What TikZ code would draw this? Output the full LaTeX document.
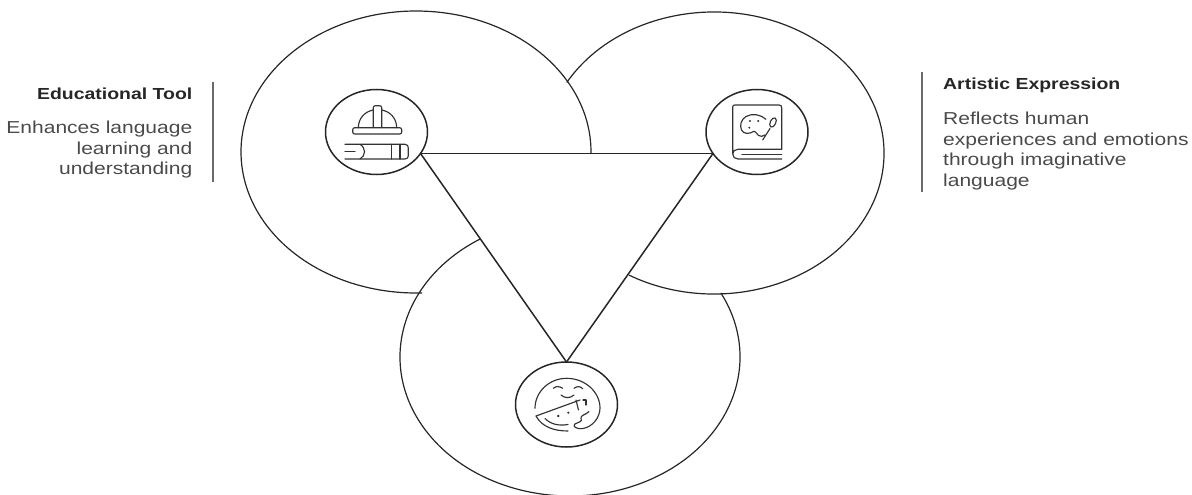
\documentclass[tikz,border=0pt]{standalone}
\usepackage{fontspec}
\setmainfont[FakeStretch=1.215]{Liberation Sans}
\usetikzlibrary{shapes.geometric}
\definecolor{ink}{HTML}{262626}
\definecolor{iconink}{HTML}{333333}
\definecolor{bodyink}{HTML}{4A4A4A}
\definecolor{barink}{HTML}{6A6A6A}
\tikzset{
  bigarc/.style={draw=ink,line width=1.2pt},
  hub/.style={ellipse,draw=ink,line width=1.5pt,minimum width=102pt,minimum height=85pt,inner sep=0pt,outer sep=0pt},
  tri/.style={draw=ink,line width=1.5pt},
  icon/.style={draw=iconink,line width=1.15pt,line cap=round,line join=round},
  head/.style={inner sep=0pt,font=\fontsize{16}{18}\selectfont\bfseries,text=ink},
  bodytext/.style={inner sep=0pt,font=\fontsize{17.3}{20.8}\selectfont,text=bodyink},
  bar/.style={draw=barink,line width=1.4pt}
}
\begin{document}
\begin{tikzpicture}[x=1pt,y=-1pt]
\useasboundingbox (0,0) rectangle (1192,495);
\coordinate (L) at (416,152);
\coordinate (R) at (714,153);
\coordinate (S) at (570,357);
% large overlapping circles
\draw[bigarc] (L) ++(-0.4:175pt and 141pt) arc[start angle=-0.4,end angle=272,x radius=175pt,y radius=141pt];
\draw[bigarc] (R) ++(150:170pt and 141pt) arc[start angle=150,end angle=-120,x radius=170pt,y radius=141pt];
\draw[bigarc] (S) ++(27.5:170pt and 139pt) arc[start angle=27.5,end angle=-238,x radius=170pt,y radius=139pt];
% hubs
\node[hub] (A) at (376.5,132) {};
\node[hub] (B) at (757,132) {};
\node[hub] (C) at (566.5,404.5) {};
% triangle
\draw[tri] (A.-26) -- (B.206);
\draw[tri] (A.-26) -- (C.north);
\draw[tri] (B.206) -- (C.north);
% helmet and book icon
\draw[icon,rounded corners=2pt] (352.7,127.7) rectangle (401.7,134);
\draw[icon] (358.3,127.7) .. controls (358.5,118) and (365,111.5) .. (373.3,110);
\draw[icon] (396.7,127.7) .. controls (396.5,118) and (390,111.5) .. (381.7,110);
\draw[icon,rounded corners=2pt] (373.3,127.7) -- (373.3,105.7) -- (381.7,105.7) -- (381.7,127.7);
\draw[icon] (345,144.3) -- (405,144.3) .. controls (407.5,144.3) and (408.3,146) .. (408.3,148) -- (408.3,155.5) .. controls (408.3,157.5) and (407.5,159) .. (405,159) -- (345,159);
\draw[icon] (345,151.7) -- (355,151.7);
\draw[icon] (360,144.3) .. controls (363,146) and (364.5,149) .. (364.5,151.7) .. controls (364.5,154.5) and (363,157.5) .. (360,159);
\draw[icon] (391.7,144.3) -- (391.7,159);
\draw[icon] (400,144.3) -- (400,159);
% palette book icon
\draw[icon] (732.7,154) -- (732.7,107) .. controls (732.7,105.5) and (733.5,105) .. (735,105) -- (779,105) .. controls (781,105) and (781.7,106) .. (781.7,108) -- (781.7,149.3) -- (738,149.3) .. controls (735,149.3) and (732.7,151) .. (732.7,154) .. controls (732.7,157) and (735,159) .. (738,159) -- (781.7,159);
\draw[icon] (742,154.3) -- (781.7,154.3);
\draw[icon] (766,119.3) .. controls (761,114.5) and (752,113) .. (746,116.5) .. controls (741,119.5) and (739.5,125.5) .. (741.5,130) .. controls (743.5,134.5) and (750,134) .. (753.5,131.5) .. controls (755.5,130.5) and (756.5,134) .. (758.5,135.5) .. controls (760.5,136.8) and (763,136.5) .. (765,135);
\draw[icon] (762.7,140) -- (770,128.5);
\draw[icon,rotate around={-25:(773,122.5)}] (773,122.5) ellipse[x radius=2.8pt,y radius=5pt];
\fill[iconink] (750,121) circle[radius=1.1pt] (758.3,121) circle[radius=1.1pt] (749.3,127.7) circle[radius=1.1pt];
% face and melon icon
\draw[icon] (535,408.3) .. controls (535,392) and (549,378.3) .. (566.7,378.3) .. controls (585,378.3) and (600,392) .. (600,408) .. controls (600,418) and (592,427) .. (583,428.5) .. controls (576,429.5) and (572,426) .. (575,424) .. controls (578,422) and (583,422) .. (581,418.5) .. controls (580,415) and (586,415) .. (589,411.5);
\draw[icon] (553.3,388.3) .. controls (556,386) and (559,386) .. (562.7,388.3);
\draw[icon] (574,388.3) .. controls (577,386) and (580,386) .. (582.7,388.7);
\draw[icon] (561,395) .. controls (565,398.5) and (570,398.5) .. (574,395);
\draw[icon] (536,416) -- (580,400);
\draw[icon] (536,416) .. controls (542,427) and (554,431) .. (568,431);
\draw[icon] (545,418.5) .. controls (551,424.5) and (559,426) .. (568,424.5);
\draw[icon] (576,400) -- (578.5,410);
\draw[icon] (583,400) -- (586,400) -- (586,405);
\fill[iconink] (558.3,416) circle[radius=1.4pt] (568.3,412.7) circle[radius=1.2pt];
% left label
\node[head,anchor=base east] (lh) at (192.5,99.5) {Educational Tool};
\node[bodytext,anchor=north east,align=right] (lb) at (192.5,120.5) {Enhances language\\learning and\\understanding};
\coordinate (lb1) at (213,82);
\coordinate (lb2) at (213,182);
\draw[bar] (lb1) -- (lb2);
% right label
\node[head,anchor=base west] (rh) at (943,89) {Artistic Expression};
\node[bodytext,anchor=north west,align=left] (rb) at (943,111.5) {Reflects human\\experiences and emotions\\through imaginative\\language};
\coordinate (rb1) at (922,72);
\coordinate (rb2) at (922,192);
\draw[bar] (rb1) -- (rb2);
\end{tikzpicture}
\end{document}
